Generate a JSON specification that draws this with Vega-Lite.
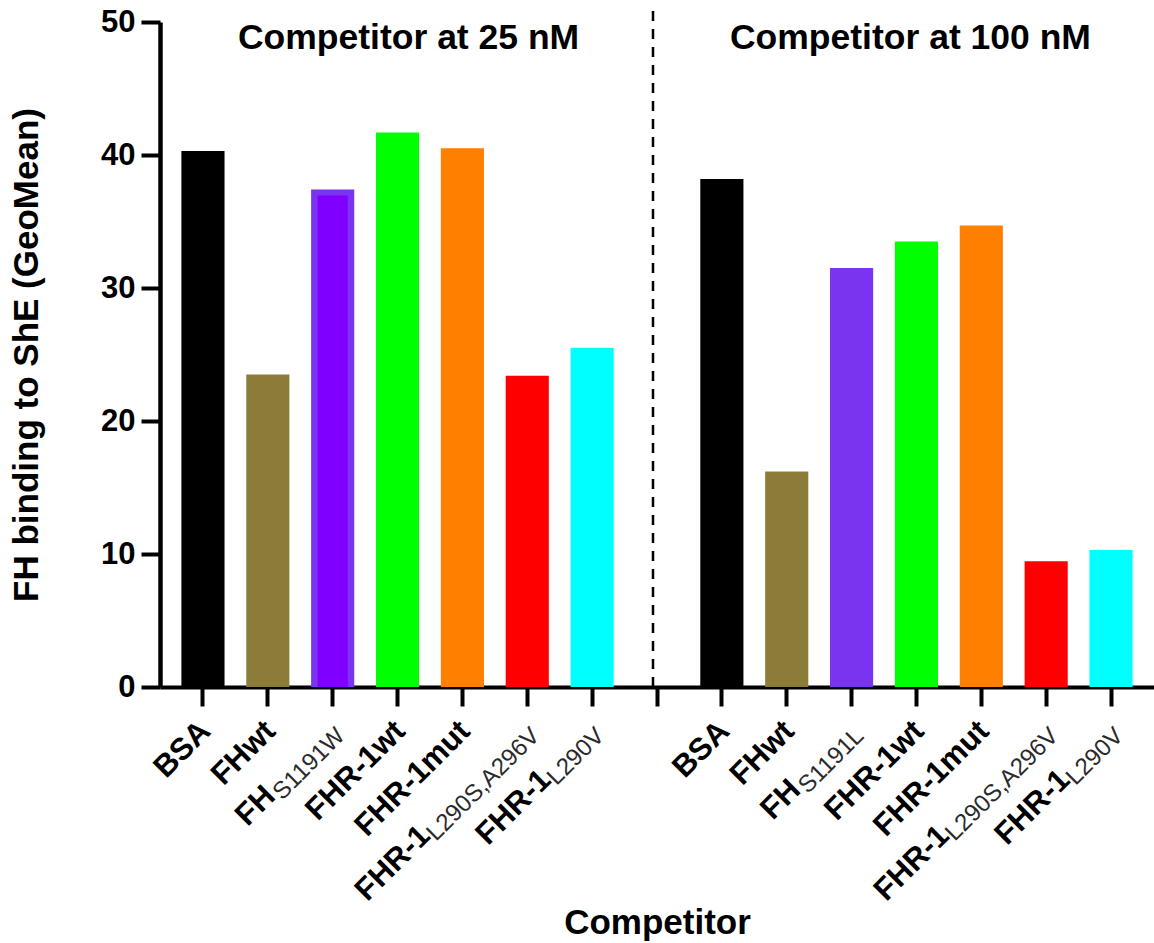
{
  "$schema": "https://vega.github.io/schema/vega-lite/v6.json",
  "width": 994,
  "height": 665,
  "autosize": {"type": "none"},
  "padding": {"left": 160, "top": 22, "right": 0, "bottom": 256},
  "background": "white",
  "config": {
    "view": {"stroke": null},
    "font": "Liberation Sans"
  },
  "data": {
    "values": [
      {"slot": "25|BSA", "conc": "25 nM", "competitor": "BSA", "main": "BSA", "sub": "", "value": 40.3},
      {"slot": "25|FHwt", "conc": "25 nM", "competitor": "FHwt", "main": "FHwt", "sub": "", "value": 23.5},
      {"slot": "25|FH S1191W", "conc": "25 nM", "competitor": "FH S1191W", "main": "FH", "sub": "S1191W", "value": 37.4},
      {"slot": "25|FHR-1wt", "conc": "25 nM", "competitor": "FHR-1wt", "main": "FHR-1wt", "sub": "", "value": 41.7},
      {"slot": "25|FHR-1mut", "conc": "25 nM", "competitor": "FHR-1mut", "main": "FHR-1mut", "sub": "", "value": 40.5},
      {"slot": "25|FHR-1 L290S,A296V", "conc": "25 nM", "competitor": "FHR-1 L290S,A296V", "main": "FHR-1", "sub": "L290S,A296V", "value": 23.4},
      {"slot": "25|FHR-1 L290V", "conc": "25 nM", "competitor": "FHR-1 L290V", "main": "FHR-1", "sub": "L290V", "value": 25.5},
      {"slot": "100|BSA", "conc": "100 nM", "competitor": "BSA", "main": "BSA", "sub": "", "value": 38.2},
      {"slot": "100|FHwt", "conc": "100 nM", "competitor": "FHwt", "main": "FHwt", "sub": "", "value": 16.2},
      {"slot": "100|FH S1191L", "conc": "100 nM", "competitor": "FH S1191L", "main": "FH", "sub": "S1191L", "value": 31.5},
      {"slot": "100|FHR-1wt", "conc": "100 nM", "competitor": "FHR-1wt", "main": "FHR-1wt", "sub": "", "value": 33.5},
      {"slot": "100|FHR-1mut", "conc": "100 nM", "competitor": "FHR-1mut", "main": "FHR-1mut", "sub": "", "value": 34.7},
      {"slot": "100|FHR-1 L290S,A296V", "conc": "100 nM", "competitor": "FHR-1 L290S,A296V", "main": "FHR-1", "sub": "L290S,A296V", "value": 9.45},
      {"slot": "100|FHR-1 L290V", "conc": "100 nM", "competitor": "FHR-1 L290V", "main": "FHR-1", "sub": "L290V", "value": 10.3}
    ]
  },
  "encoding": {
    "x": {
      "field": "slot",
      "type": "nominal",
      "sort": null,
      "scale": {
        "type": "band",
        "domain": [
          "25|BSA", "25|FHwt", "25|FH S1191W", "25|FHR-1wt", "25|FHR-1mut", "25|FHR-1 L290S,A296V", "25|FHR-1 L290V",
          "gap",
          "100|BSA", "100|FHwt", "100|FH S1191L", "100|FHR-1wt", "100|FHR-1mut", "100|FHR-1 L290S,A296V", "100|FHR-1 L290V"
        ],
        "paddingInner": 0.335,
        "paddingOuter": 0.33
      },
      "axis": {
        "title": "Competitor",
        "titleFontSize": 35,
        "titleFontWeight": "bold",
        "titleColor": "black",
        "titlePadding": 197,
        "labels": false,
        "ticks": true,
        "tickSize": 19,
        "tickWidth": 4,
        "tickColor": "black",
        "domainWidth": 4,
        "domainColor": "black",
        "grid": false
      }
    }
  },
  "layer": [
    {
      "mark": {"type": "bar"},
      "encoding": {
        "y": {
          "field": "value",
          "type": "quantitative",
          "scale": {"domain": [0, 50], "nice": false, "zero": true},
          "axis": {
            "title": "FH binding to ShE (GeoMean)",
            "titleFontSize": 35,
            "titleFontWeight": "bold",
            "titleColor": "black",
            "titlePadding": 56,
            "values": [0, 10, 20, 30, 40, 50],
            "labelFontSize": 31,
            "labelFontWeight": "bold",
            "labelColor": "black",
            "labelPadding": 6,
            "tickSize": 19,
            "tickWidth": 4,
            "tickColor": "black",
            "domainWidth": 4.5,
            "domainColor": "black",
            "grid": false
          }
        },
        "color": {
          "field": "competitor",
          "type": "nominal",
          "legend": null,
          "scale": {
            "domain": ["BSA", "FHwt", "FH S1191W", "FH S1191L", "FHR-1wt", "FHR-1mut", "FHR-1 L290S,A296V", "FHR-1 L290V"],
            "range": ["#000000", "#8b7c39", "#7a33ee", "#7a33ee", "#00ff00", "#ff8000", "#ff0000", "#00ffff"]
          }
        }
      }
    },
    {
      "transform": [{"filter": "datum.competitor === 'FH S1191W'"}],
      "mark": {"type": "bar", "color": "#8000ff", "width": {"band": 0.7}, "yOffset": 6, "y2Offset": 0},
      "encoding": {
        "y": {"field": "value", "type": "quantitative"},
        "y2": {"datum": 0}
      }
    },
    {
      "data": {"values": [{"slot": "gap"}]},
      "mark": {"type": "rule", "color": "black", "strokeWidth": 2.5, "strokeDash": [10, 8], "xOffset": -4},
      "encoding": {
        "y": {"datum": 0},
        "y2": {"datum": 50.9}
      }
    },
    {
      "data": {"values": [{"slot": "25|FHR-1wt", "label": "Competitor at 25 nM"}]},
      "mark": {"type": "text", "fontSize": 35.5, "fontWeight": "bold", "color": "black", "align": "center", "baseline": "alphabetic", "dx": 11},
      "encoding": {"y": {"datum": 48}, "text": {"field": "label"}}
    },
    {
      "data": {"values": [{"slot": "100|FHR-1wt", "label": "Competitor at 100 nM"}]},
      "mark": {"type": "text", "fontSize": 35.5, "fontWeight": "bold", "color": "black", "align": "center", "baseline": "alphabetic", "dx": -6},
      "encoding": {"y": {"datum": 48}, "text": {"field": "label"}}
    },
    {
      "transform": [{"filter": "datum.sub === ''"}],
      "mark": {"type": "text", "angle": 315, "fontSize": 31, "fontWeight": "bold", "color": "black", "align": "right", "baseline": "alphabetic", "dx": -26, "dy": 39},
      "encoding": {"y": {"datum": 0}, "text": {"field": "main"}}
    },
    {
      "transform": [{"filter": "datum.sub !== ''"}],
      "mark": {"type": "text", "angle": 315, "fontSize": 24, "fontWeight": "normal", "color": "#2a2a2a", "align": "right", "baseline": "alphabetic", "dx": -26, "dy": 45},
      "encoding": {"y": {"datum": 0}, "text": {"field": "sub"}}
    },
    {
      "transform": [{"filter": "datum.sub === 'S1191W'"}],
      "mark": {"type": "text", "angle": 315, "fontSize": 31, "fontWeight": "bold", "color": "black", "align": "right", "baseline": "alphabetic", "dx": -118, "dy": 39},
      "encoding": {"y": {"datum": 0}, "text": {"field": "main"}}
    },
    {
      "transform": [{"filter": "datum.sub === 'S1191L'"}],
      "mark": {"type": "text", "angle": 315, "fontSize": 31, "fontWeight": "bold", "color": "black", "align": "right", "baseline": "alphabetic", "dx": -109, "dy": 39},
      "encoding": {"y": {"datum": 0}, "text": {"field": "main"}}
    },
    {
      "transform": [{"filter": "datum.sub === 'L290S,A296V'"}],
      "mark": {"type": "text", "angle": 315, "fontSize": 31, "fontWeight": "bold", "color": "black", "align": "right", "baseline": "alphabetic", "dx": -174, "dy": 39},
      "encoding": {"y": {"datum": 0}, "text": {"field": "main"}}
    },
    {
      "transform": [{"filter": "datum.sub === 'L290V'"}],
      "mark": {"type": "text", "angle": 315, "fontSize": 31, "fontWeight": "bold", "color": "black", "align": "right", "baseline": "alphabetic", "dx": -95, "dy": 39},
      "encoding": {"y": {"datum": 0}, "text": {"field": "main"}}
    }
  ]
}
